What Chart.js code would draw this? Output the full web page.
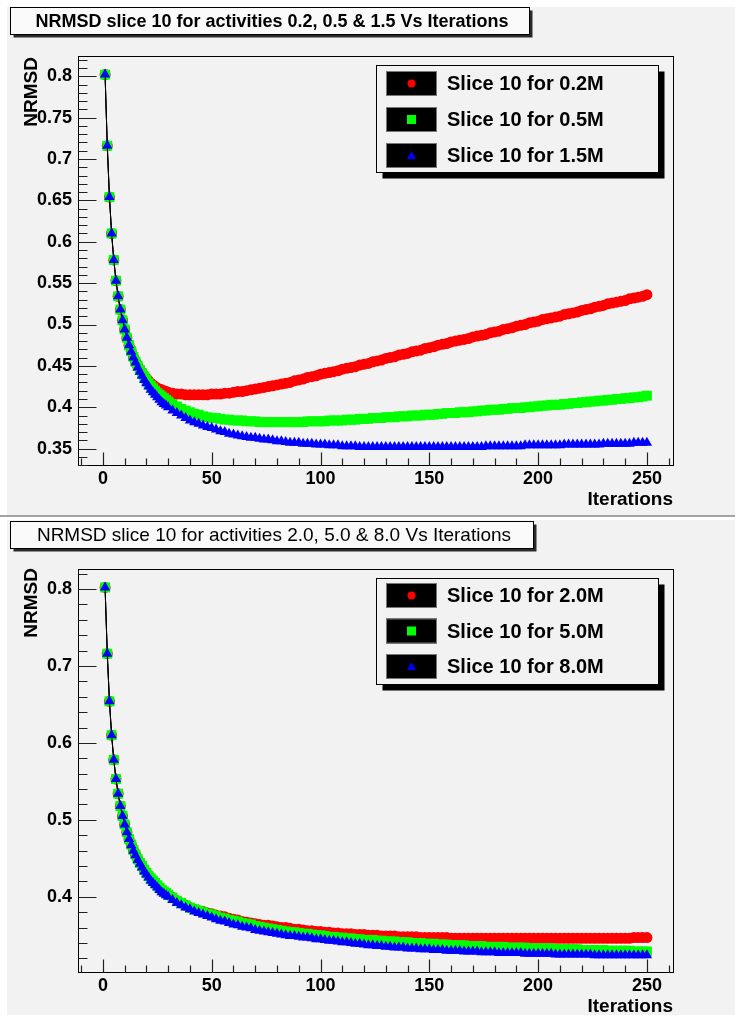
<!DOCTYPE html>
<html>
<head>
<meta charset="utf-8">
<script src="https://cdn.jsdelivr.net/npm/chart.js@4.4.1/dist/chart.umd.min.js"></script>
<style>
  html, body { margin: 0; padding: 0; background: #fff; }
  #wrap { position: relative; width: 735px; height: 1018px; overflow: hidden; }
  canvas { position: absolute; left: 0; }
  #top { top: 0; }
  #bottom { top: 517px; }
</style>
</head>
<body>
<div id="wrap">
  <canvas id="top" width="735" height="517"></canvas>
  <canvas id="bottom" width="735" height="501"></canvas>
</div>
<script>
// iterations where a point is drawn (every one at the start, then every other one)
const iterations = [1,2,3,4,5,6,7,8,9,10,11,12,13,14,15,16,17,18,19,20,21,22,23,24,25,26,27,28,29,30,
  32,34,36,38,40,42,44,46,48,50, 52,54,56,58,60,62,64,66,68,70,
  72,74,76,78,80,82,84,86,88,90, 92,94,96,98,100,102,104,106,108,110,
  112,114,116,118,120,122,124,126,128,130, 132,134,136,138,140,142,144,146,148,150,
  152,154,156,158,160,162,164,166,168,170, 172,174,176,178,180,182,184,186,188,190,
  192,194,196,198,200,202,204,206,208,210, 212,214,216,218,220,222,224,226,228,230,
  232,234,236,238,240,242,244,246,248,250];

// top panel
const slice10_02M = [0.802,0.716,0.654,0.610,0.578,0.553,0.534,0.518,0.505,0.494,
  0.484,0.475,0.468,0.461,0.455,0.450,0.446,0.442,0.438,0.435,
  0.432,0.429,0.427,0.425,0.423,0.422,0.421,0.420,0.419,0.418,
  0.417,0.416,0.416,0.415,0.415,0.415,0.415,0.415,0.415,0.416,
  0.416,0.416,0.417,0.417,0.418,0.419,0.419,0.420,0.421,0.422,
  0.423,0.424,0.425,0.426,0.427,0.428,0.429,0.430,0.432,0.433,
  0.434,0.436,0.437,0.438,0.440,0.441,0.442,0.443,0.444,0.446,
  0.447,0.448,0.449,0.451,0.452,0.453,0.455,0.456,0.457,0.459,
  0.460,0.461,0.463,0.464,0.465,0.467,0.468,0.469,0.471,0.472,
  0.473,0.475,0.476,0.477,0.479,0.480,0.481,0.482,0.483,0.485,
  0.486,0.487,0.488,0.490,0.491,0.492,0.494,0.495,0.496,0.498,
  0.499,0.500,0.502,0.503,0.504,0.506,0.507,0.508,0.509,0.510,
  0.512,0.513,0.514,0.515,0.517,0.518,0.519,0.521,0.522,0.523,
  0.525,0.526,0.527,0.528,0.529,0.531,0.532,0.533,0.534,0.536];
const slice10_05M = [0.802,0.716,0.654,0.610,0.578,0.553,0.534,0.518,0.505,0.494,
  0.484,0.475,0.468,0.461,0.455,0.450,0.445,0.441,0.437,0.433,
  0.429,0.426,0.423,0.420,0.417,0.415,0.413,0.411,0.409,0.407,
  0.404,0.401,0.398,0.396,0.394,0.392,0.391,0.389,0.388,0.387,
  0.387,0.386,0.385,0.385,0.384,0.384,0.384,0.383,0.383,0.383,
  0.382,0.382,0.382,0.382,0.382,0.382,0.382,0.382,0.382,0.382,
  0.382,0.383,0.383,0.383,0.383,0.383,0.384,0.384,0.384,0.384,
  0.385,0.385,0.385,0.386,0.386,0.386,0.387,0.387,0.387,0.388,
  0.388,0.388,0.389,0.389,0.389,0.390,0.390,0.390,0.391,0.391,
  0.391,0.392,0.392,0.393,0.393,0.393,0.394,0.394,0.394,0.395,
  0.395,0.396,0.396,0.397,0.397,0.397,0.398,0.398,0.399,0.399,
  0.399,0.400,0.400,0.401,0.401,0.402,0.402,0.403,0.403,0.403,
  0.404,0.404,0.405,0.405,0.406,0.406,0.407,0.407,0.408,0.408,
  0.409,0.409,0.410,0.410,0.411,0.411,0.412,0.412,0.413,0.414];
const slice10_15M = [0.802,0.716,0.654,0.610,0.578,0.553,0.534,0.518,0.505,0.494,
  0.484,0.475,0.467,0.460,0.454,0.448,0.443,0.438,0.433,0.429,
  0.425,0.421,0.418,0.415,0.412,0.409,0.406,0.404,0.402,0.400,
  0.396,0.393,0.390,0.387,0.384,0.382,0.380,0.378,0.376,0.375,
  0.373,0.371,0.370,0.368,0.367,0.366,0.365,0.364,0.363,0.363,
  0.362,0.361,0.361,0.360,0.359,0.359,0.358,0.357,0.357,0.357,
  0.356,0.356,0.356,0.355,0.355,0.355,0.354,0.354,0.354,0.353,
  0.353,0.353,0.353,0.352,0.352,0.352,0.352,0.352,0.352,0.352,
  0.352,0.352,0.352,0.352,0.352,0.352,0.352,0.352,0.352,0.352,
  0.352,0.352,0.352,0.352,0.352,0.352,0.352,0.352,0.352,0.352,
  0.352,0.352,0.353,0.353,0.353,0.353,0.353,0.353,0.353,0.353,
  0.353,0.354,0.354,0.354,0.354,0.354,0.354,0.354,0.354,0.354,
  0.355,0.355,0.355,0.355,0.355,0.355,0.355,0.355,0.355,0.356,
  0.356,0.356,0.356,0.356,0.356,0.356,0.357,0.357,0.357,0.357];

// bottom panel
const slice10_20M = [0.802,0.716,0.654,0.610,0.578,0.553,0.534,0.518,0.505,0.494,
  0.484,0.475,0.468,0.461,0.455,0.449,0.444,0.440,0.435,0.431,
  0.427,0.424,0.421,0.418,0.415,0.412,0.409,0.407,0.405,0.403,
  0.399,0.395,0.392,0.389,0.386,0.384,0.382,0.381,0.379,0.378,
  0.376,0.375,0.374,0.372,0.371,0.370,0.368,0.367,0.366,0.365,
  0.364,0.363,0.363,0.362,0.361,0.360,0.360,0.359,0.358,0.358,
  0.357,0.356,0.356,0.355,0.355,0.354,0.354,0.353,0.353,0.352,
  0.352,0.352,0.351,0.351,0.351,0.350,0.350,0.350,0.349,0.349,
  0.349,0.349,0.348,0.348,0.348,0.348,0.348,0.347,0.347,0.347,
  0.347,0.347,0.347,0.347,0.346,0.346,0.346,0.346,0.346,0.346,
  0.346,0.346,0.346,0.346,0.346,0.346,0.346,0.346,0.346,0.346,
  0.346,0.346,0.346,0.346,0.346,0.346,0.346,0.346,0.346,0.346,
  0.346,0.346,0.346,0.346,0.346,0.346,0.346,0.346,0.346,0.346,
  0.346,0.346,0.346,0.346,0.346,0.346,0.347,0.347,0.347,0.347];
const slice10_50M = [0.802,0.716,0.654,0.610,0.578,0.553,0.534,0.518,0.505,0.494,
  0.484,0.475,0.468,0.461,0.455,0.449,0.444,0.440,0.435,0.431,
  0.427,0.424,0.421,0.418,0.415,0.412,0.409,0.407,0.405,0.403,
  0.399,0.395,0.392,0.389,0.386,0.384,0.382,0.380,0.378,0.377,
  0.375,0.373,0.372,0.370,0.369,0.368,0.366,0.365,0.364,0.362,
  0.361,0.360,0.359,0.358,0.357,0.356,0.355,0.354,0.354,0.353,
  0.352,0.352,0.351,0.350,0.350,0.349,0.348,0.348,0.347,0.347,
  0.346,0.346,0.345,0.345,0.344,0.344,0.344,0.343,0.343,0.342,
  0.342,0.342,0.341,0.341,0.341,0.340,0.340,0.340,0.339,0.339,
  0.339,0.338,0.338,0.338,0.337,0.337,0.337,0.337,0.336,0.336,
  0.336,0.336,0.335,0.335,0.335,0.335,0.335,0.334,0.334,0.334,
  0.334,0.334,0.333,0.333,0.333,0.333,0.333,0.333,0.332,0.332,
  0.332,0.332,0.332,0.332,0.331,0.331,0.331,0.331,0.331,0.331,
  0.330,0.330,0.330,0.330,0.330,0.330,0.329,0.329,0.329,0.329];
const slice10_80M = [0.802,0.716,0.654,0.610,0.578,0.553,0.534,0.518,0.505,0.494,
  0.484,0.475,0.467,0.460,0.454,0.448,0.443,0.438,0.433,0.429,
  0.425,0.421,0.418,0.415,0.412,0.409,0.406,0.404,0.402,0.400,
  0.396,0.392,0.389,0.386,0.384,0.381,0.379,0.377,0.375,0.373,
  0.371,0.369,0.368,0.366,0.364,0.363,0.361,0.360,0.359,0.357,
  0.356,0.355,0.354,0.353,0.352,0.351,0.350,0.349,0.349,0.348,
  0.347,0.347,0.346,0.345,0.345,0.344,0.343,0.343,0.342,0.341,
  0.341,0.340,0.339,0.339,0.338,0.337,0.337,0.336,0.336,0.335,
  0.335,0.334,0.334,0.334,0.333,0.333,0.333,0.332,0.332,0.332,
  0.331,0.331,0.331,0.330,0.330,0.330,0.330,0.329,0.329,0.329,
  0.329,0.328,0.328,0.328,0.328,0.327,0.327,0.327,0.327,0.327,
  0.327,0.326,0.326,0.326,0.326,0.326,0.326,0.326,0.325,0.325,
  0.325,0.325,0.325,0.325,0.325,0.325,0.325,0.324,0.324,0.324,
  0.324,0.324,0.324,0.324,0.324,0.324,0.324,0.324,0.324,0.324];

const xTicks = [0, 50, 100, 150, 200, 250];
const xTickLabels = ['0', '50', '100', '150', '200', '250'];
const yTicksTop = [0.35, 0.4, 0.45, 0.5, 0.55, 0.6, 0.65, 0.7, 0.75, 0.8];
const yTickLabelsTop = ['0.35', '0.4', '0.45', '0.5', '0.55', '0.6', '0.65', '0.7', '0.75', '0.8'];
const yTicksBottom = [0.4, 0.5, 0.6, 0.7, 0.8];
const yTickLabelsBottom = ['0.4', '0.5', '0.6', '0.7', '0.8'];

const FONT = "'Liberation Sans', Arial, Helvetica, sans-serif";

function marker(c, style, x, y, r) {
  c.beginPath();
  if (style === 'circle') {
    c.arc(x, y, r, 0, Math.PI * 2);
  } else if (style === 'rect') {
    c.rect(x - r, y - r, 2 * r, 2 * r);
  } else {
    c.moveTo(x, y - r);
    c.lineTo(x + r, y + r * 0.8);
    c.lineTo(x - r, y + r * 0.8);
    c.closePath();
  }
  c.fill();
}

function panel(id, p) {
  const datasets = p.series.map((s, k) => ({
    label: s.label,
    data: iterations.map((x, i) => ({ x: x, y: s.values[i] })),
    borderColor: '#000',
    borderWidth: 1,
    pointStyle: s.style,
    pointRadius: s.radius,
    pointBackgroundColor: s.color,
    pointBorderColor: s.color,
    pointBorderWidth: 0,
    tension: 0,
    order: p.series.length - k
  }));

  const deco = {
    id: 'rootPad',
    beforeDraw(chart) {
      const c = chart.ctx;
      c.save();
      c.fillStyle = '#fff';
      c.fillRect(0, 0, chart.width, chart.height);
      c.fillStyle = '#f2f2f2';
      c.fillRect(p.pad[0], p.pad[1], p.pad[2], p.pad[3]);
      if (p.sep) {
        c.fillStyle = '#a3a3a3';
        c.fillRect(0, p.sep, chart.width, 2);
      }
      c.restore();
    },
    afterDraw(chart) {
      const c = chart.ctx;
      const a = chart.chartArea;
      const xs = chart.scales.x, ys = chart.scales.y;
      const L = Math.round(a.left) + 0.5, T = Math.round(a.top) + 0.5;
      const R = Math.round(a.right) - 0.5, B = Math.round(a.bottom) - 0.5;
      c.save();
      // frame
      c.strokeStyle = '#000';
      c.lineWidth = 1;
      c.strokeRect(L, T, R - L, B - T);
      // ticks, pointing inwards like ROOT
      c.strokeStyle = '#222';
      c.lineWidth = 1.2;
      c.beginPath();
      for (let m = p.minor[0]; m <= p.minor[1]; m++) {
        const v = m * p.minor[2];
        if (v < ys.min || v > ys.max) continue;
        const y = Math.round(ys.getPixelForValue(v)) + 0.5;
        c.moveTo(L, y); c.lineTo(L + 9, y);
      }
      p.yTicks.forEach(v => {
        const y = Math.round(ys.getPixelForValue(v)) + 0.5;
        c.moveTo(L, y); c.lineTo(L + 18, y);
      });
      for (let m = -1; m <= 26; m++) {
        const v = m * 10;
        const x = Math.round(xs.getPixelForValue(v)) + 0.5;
        const len = (v % 50 === 0) ? 13 : 7;
        c.moveTo(x, B); c.lineTo(x, B - len);
      }
      c.stroke();

      // axis titles
      c.fillStyle = '#000';
      c.font = 'bold 19px ' + FONT;
      c.textAlign = 'right';
      c.textBaseline = 'middle';
      c.fillText('Iterations', 673, p.iterY);
      c.save();
      c.translate(32, p.nrmsdTop);
      c.rotate(-Math.PI / 2);
      c.fillText('NRMSD', 0, 0);
      c.restore();

      // title box
      const tb = p.titleBox;
      c.fillStyle = '#2a2a2a';
      c.fillRect(tb[0] + 3, tb[1] + 3, tb[2], tb[3]);
      c.fillStyle = '#fafafa';
      c.fillRect(tb[0], tb[1], tb[2], tb[3]);
      c.strokeStyle = '#000';
      c.lineWidth = 1;
      c.strokeRect(tb[0], tb[1], tb[2], tb[3]);
      c.fillStyle = '#000';
      c.font = p.titleFont;
      c.textAlign = 'center';
      c.fillText(p.title, tb[0] + tb[2] / 2 + 2, tb[1] + tb[3] / 2 + 1);

      // legend
      const lb = p.legendBox;
      c.fillStyle = '#000';
      c.fillRect(lb[0] + 6, lb[1] + 6, lb[2], lb[3]);
      c.fillStyle = '#f2f2f2';
      c.fillRect(lb[0], lb[1], lb[2], lb[3]);
      c.strokeRect(lb[0], lb[1], lb[2], lb[3]);
      p.series.forEach((s, k) => {
        const top = p.entryTops[k];
        c.fillStyle = '#000';
        c.fillRect(386, top, 51, 25);
        c.strokeStyle = '#777';
        c.strokeRect(386.5, top + 0.5, 50, 24);
        c.fillStyle = s.color;
        marker(c, s.style, 411.5, top + 12.5, s.style === 'circle' ? 4 : 4.5);
        c.fillStyle = '#000';
        c.font = 'bold 20px ' + FONT;
        c.textAlign = 'left';
        c.fillText(s.label, 447, top + 13.5);
      });
      c.restore();
    }
  };

  return new Chart(document.getElementById(id), {
    type: 'line',
    data: { datasets: datasets },
    options: {
      responsive: false,
      animation: false,
      events: [],
      layout: { padding: { left: 0, top: p.padTop, right: 61, bottom: 0 } },
      plugins: { legend: { display: false }, tooltip: { enabled: false }, title: { display: false } },
      scales: {
        x: {
          type: 'linear',
          min: -11.45,
          max: 262.45,
          afterBuildTicks: s => { s.ticks = xTicks.map(v => ({ value: v })); },
          afterFit: s => { s.height = p.xAxisH; },
          grid: { display: false, drawTicks: false },
          border: { display: false },
          ticks: {
            color: '#000',
            font: { family: FONT, size: 18, weight: 'bold' },
            padding: 2,
            maxRotation: 0,
            autoSkip: false,
            callback: (v, i) => xTickLabels[i]
          }
        },
        y: {
          type: 'linear',
          min: p.yRange[0],
          max: p.yRange[1],
          afterBuildTicks: s => { s.ticks = p.yTicks.map(v => ({ value: v })); },
          afterFit: s => { s.width = 78; },
          grid: { display: false, drawTicks: false },
          border: { display: false },
          ticks: {
            color: '#000',
            font: { family: FONT, size: 18, weight: 'bold' },
            padding: 6,
            autoSkip: false,
            callback: (v, i) => p.yLabels[i]
          }
        }
      }
    },
    plugins: [deco]
  });
}

panel('top', {
  series: [
    { label: 'Slice 10 for 0.2M', values: slice10_02M, color: '#ff0000', style: 'circle', radius: 5.5 },
    { label: 'Slice 10 for 0.5M', values: slice10_05M, color: '#00ff00', style: 'rect', radius: 7 },
    { label: 'Slice 10 for 1.5M', values: slice10_15M, color: '#0000ff', style: 'triangle', radius: 6 }
  ],
  yRange: [0.329, 0.8245],
  yTicks: yTicksTop,
  yLabels: yTickLabelsTop,
  minor: [33, 82, 0.01],
  padTop: 56,
  xAxisH: 51,
  pad: [7, 7, 728, 508],
  sep: 515,
  iterY: 500,
  nrmsdTop: 57,
  title: 'NRMSD slice 10 for activities 0.2, 0.5 & 1.5 Vs Iterations',
  titleFont: 'bold 18px ' + FONT,
  titleBox: [10.5, 7.5, 519, 27],
  legendBox: [376.5, 65.5, 282, 107],
  entryTops: [71, 107, 143]
});

panel('bottom', {
  series: [
    { label: 'Slice 10 for 2.0M', values: slice10_20M, color: '#ff0000', style: 'circle', radius: 5.5 },
    { label: 'Slice 10 for 5.0M', values: slice10_50M, color: '#00ff00', style: 'rect', radius: 7 },
    { label: 'Slice 10 for 8.0M', values: slice10_80M, color: '#0000ff', style: 'triangle', radius: 6 }
  ],
  yRange: [0.301, 0.826],
  yTicks: yTicksBottom,
  yLabels: yTickLabelsBottom,
  minor: [16, 41, 0.02],
  padTop: 52,
  xAxisH: 45,
  pad: [7, 3, 728, 495],
  sep: null,
  iterY: 490,
  nrmsdTop: 51,
  title: 'NRMSD slice 10 for activities 2.0, 5.0 & 8.0 Vs Iterations',
  titleFont: '19px ' + FONT,
  titleBox: [10.5, 4.5, 523, 27],
  legendBox: [376.5, 61.5, 282, 106],
  entryTops: [66, 101.5, 137]
});
</script>
</body>
</html>
